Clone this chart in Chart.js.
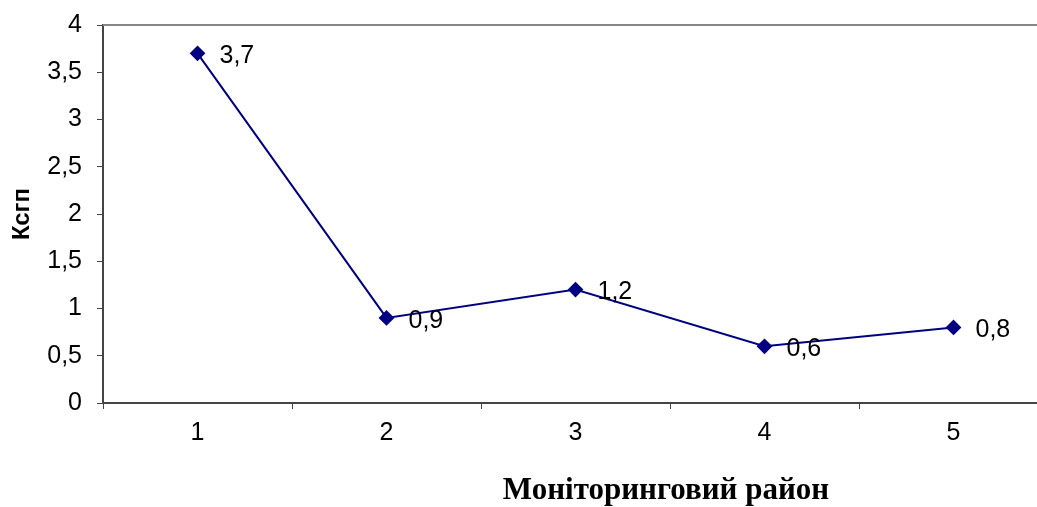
<!DOCTYPE html>
<html>
<head>
<meta charset="utf-8">
<script src="https://cdn.jsdelivr.net/npm/chart.js@4/dist/chart.umd.min.js"></script>
<style>
  body { margin: 0; overflow: hidden; background: #fff; }
  #wrap { width: 1060px; height: 507px; }
</style>
</head>
<body>
<div id="wrap"><canvas id="chart" width="1060" height="507"></canvas></div>
<script>
const districts = ["1", "2", "3", "4", "5"];
const ksgp = [3.7, 0.9, 1.2, 0.6, 0.8];
const yTitle = "Ксгп";
const xTitle = "Моніторинговий район";

const comma = v => String(v).replace(".", ",");

// value labels to the right of each point
const pointLabels = {
  id: "pointLabels",
  afterDatasetsDraw(chart) {
    const ctx = chart.ctx;
    const meta = chart.getDatasetMeta(0);
    ctx.save();
    ctx.font = "25px 'Liberation Sans', Arial, sans-serif";
    ctx.fillStyle = "#000";
    ctx.textBaseline = "middle";
    ctx.textAlign = "left";
    meta.data.forEach((pt, i) => {
      ctx.fillText(comma(ksgp[i]), pt.x + 22, pt.y + 3);
    });
    ctx.restore();
  }
};

// top border of plot area + x axis caption
const frame = {
  id: "frame",
  beforeDatasetsDraw(chart) {
    const { ctx, chartArea } = chart;
    ctx.save();
    ctx.strokeStyle = "#888";
    ctx.lineWidth = 2;
    ctx.beginPath();
    ctx.moveTo(chartArea.left, chartArea.top);
    ctx.lineTo(chartArea.right, chartArea.top);
    ctx.stroke();
    ctx.restore();
  },
  afterDraw(chart) {
    const ctx = chart.ctx;
    ctx.save();
    ctx.font = "bold 31px 'Liberation Serif', 'Times New Roman', serif";
    ctx.fillStyle = "#000";
    ctx.textAlign = "center";
    ctx.textBaseline = "middle";
    ctx.fillText(xTitle, 666, 491);
    ctx.restore();
  }
};

new Chart(document.getElementById("chart"), {
  type: "line",
  data: {
    labels: districts,
    datasets: [{
      data: ksgp,
      borderColor: "#000080",
      backgroundColor: "#000080",
      borderWidth: 2,
      pointStyle: "rectRot",
      pointRadius: 6.5,
      pointHoverRadius: 6.5,
      tension: 0
    }]
  },
  options: {
    responsive: false,
    animation: false,
    layout: { padding: { top: 25, right: 12, left: 0, bottom: 0 } },
    plugins: { legend: { display: false }, tooltip: { enabled: false } },
    scales: {
      x: {
        offset: true,
        grid: {
          offset: true,
          drawOnChartArea: false,
          drawTicks: true,
          tickLength: 6,
          color: "#444"
        },
        border: { color: "#444", width: 2 },
        ticks: {
          color: "#000",
          padding: 9,
          font: { family: "'Liberation Sans', Arial, sans-serif", size: 25 }
        },
        afterFit(scale) {
          scale.height = 104;
          scale.paddingLeft = 0;
          scale.paddingRight = 0;
        }
      },
      y: {
        min: 0,
        max: 4,
        ticks: {
          stepSize: 0.5,
          color: "#000",
          padding: 15,
          font: { family: "'Liberation Sans', Arial, sans-serif", size: 25 },
          callback: v => comma(v)
        },
        grid: {
          drawOnChartArea: false,
          drawTicks: true,
          tickLength: 6,
          color: "#444"
        },
        border: { color: "#444", width: 2 },
        title: {
          display: true,
          text: yTitle,
          color: "#000",
          padding: { top: 8, bottom: 0 },
          font: { family: "'Liberation Sans', Arial, sans-serif", size: 24, weight: "bold" }
        },
        afterFit(scale) {
          scale.width = 103;
          scale.paddingTop = 0;
          scale.paddingBottom = 0;
        }
      }
    }
  },
  plugins: [pointLabels, frame]
});
</script>
</body>
</html>
